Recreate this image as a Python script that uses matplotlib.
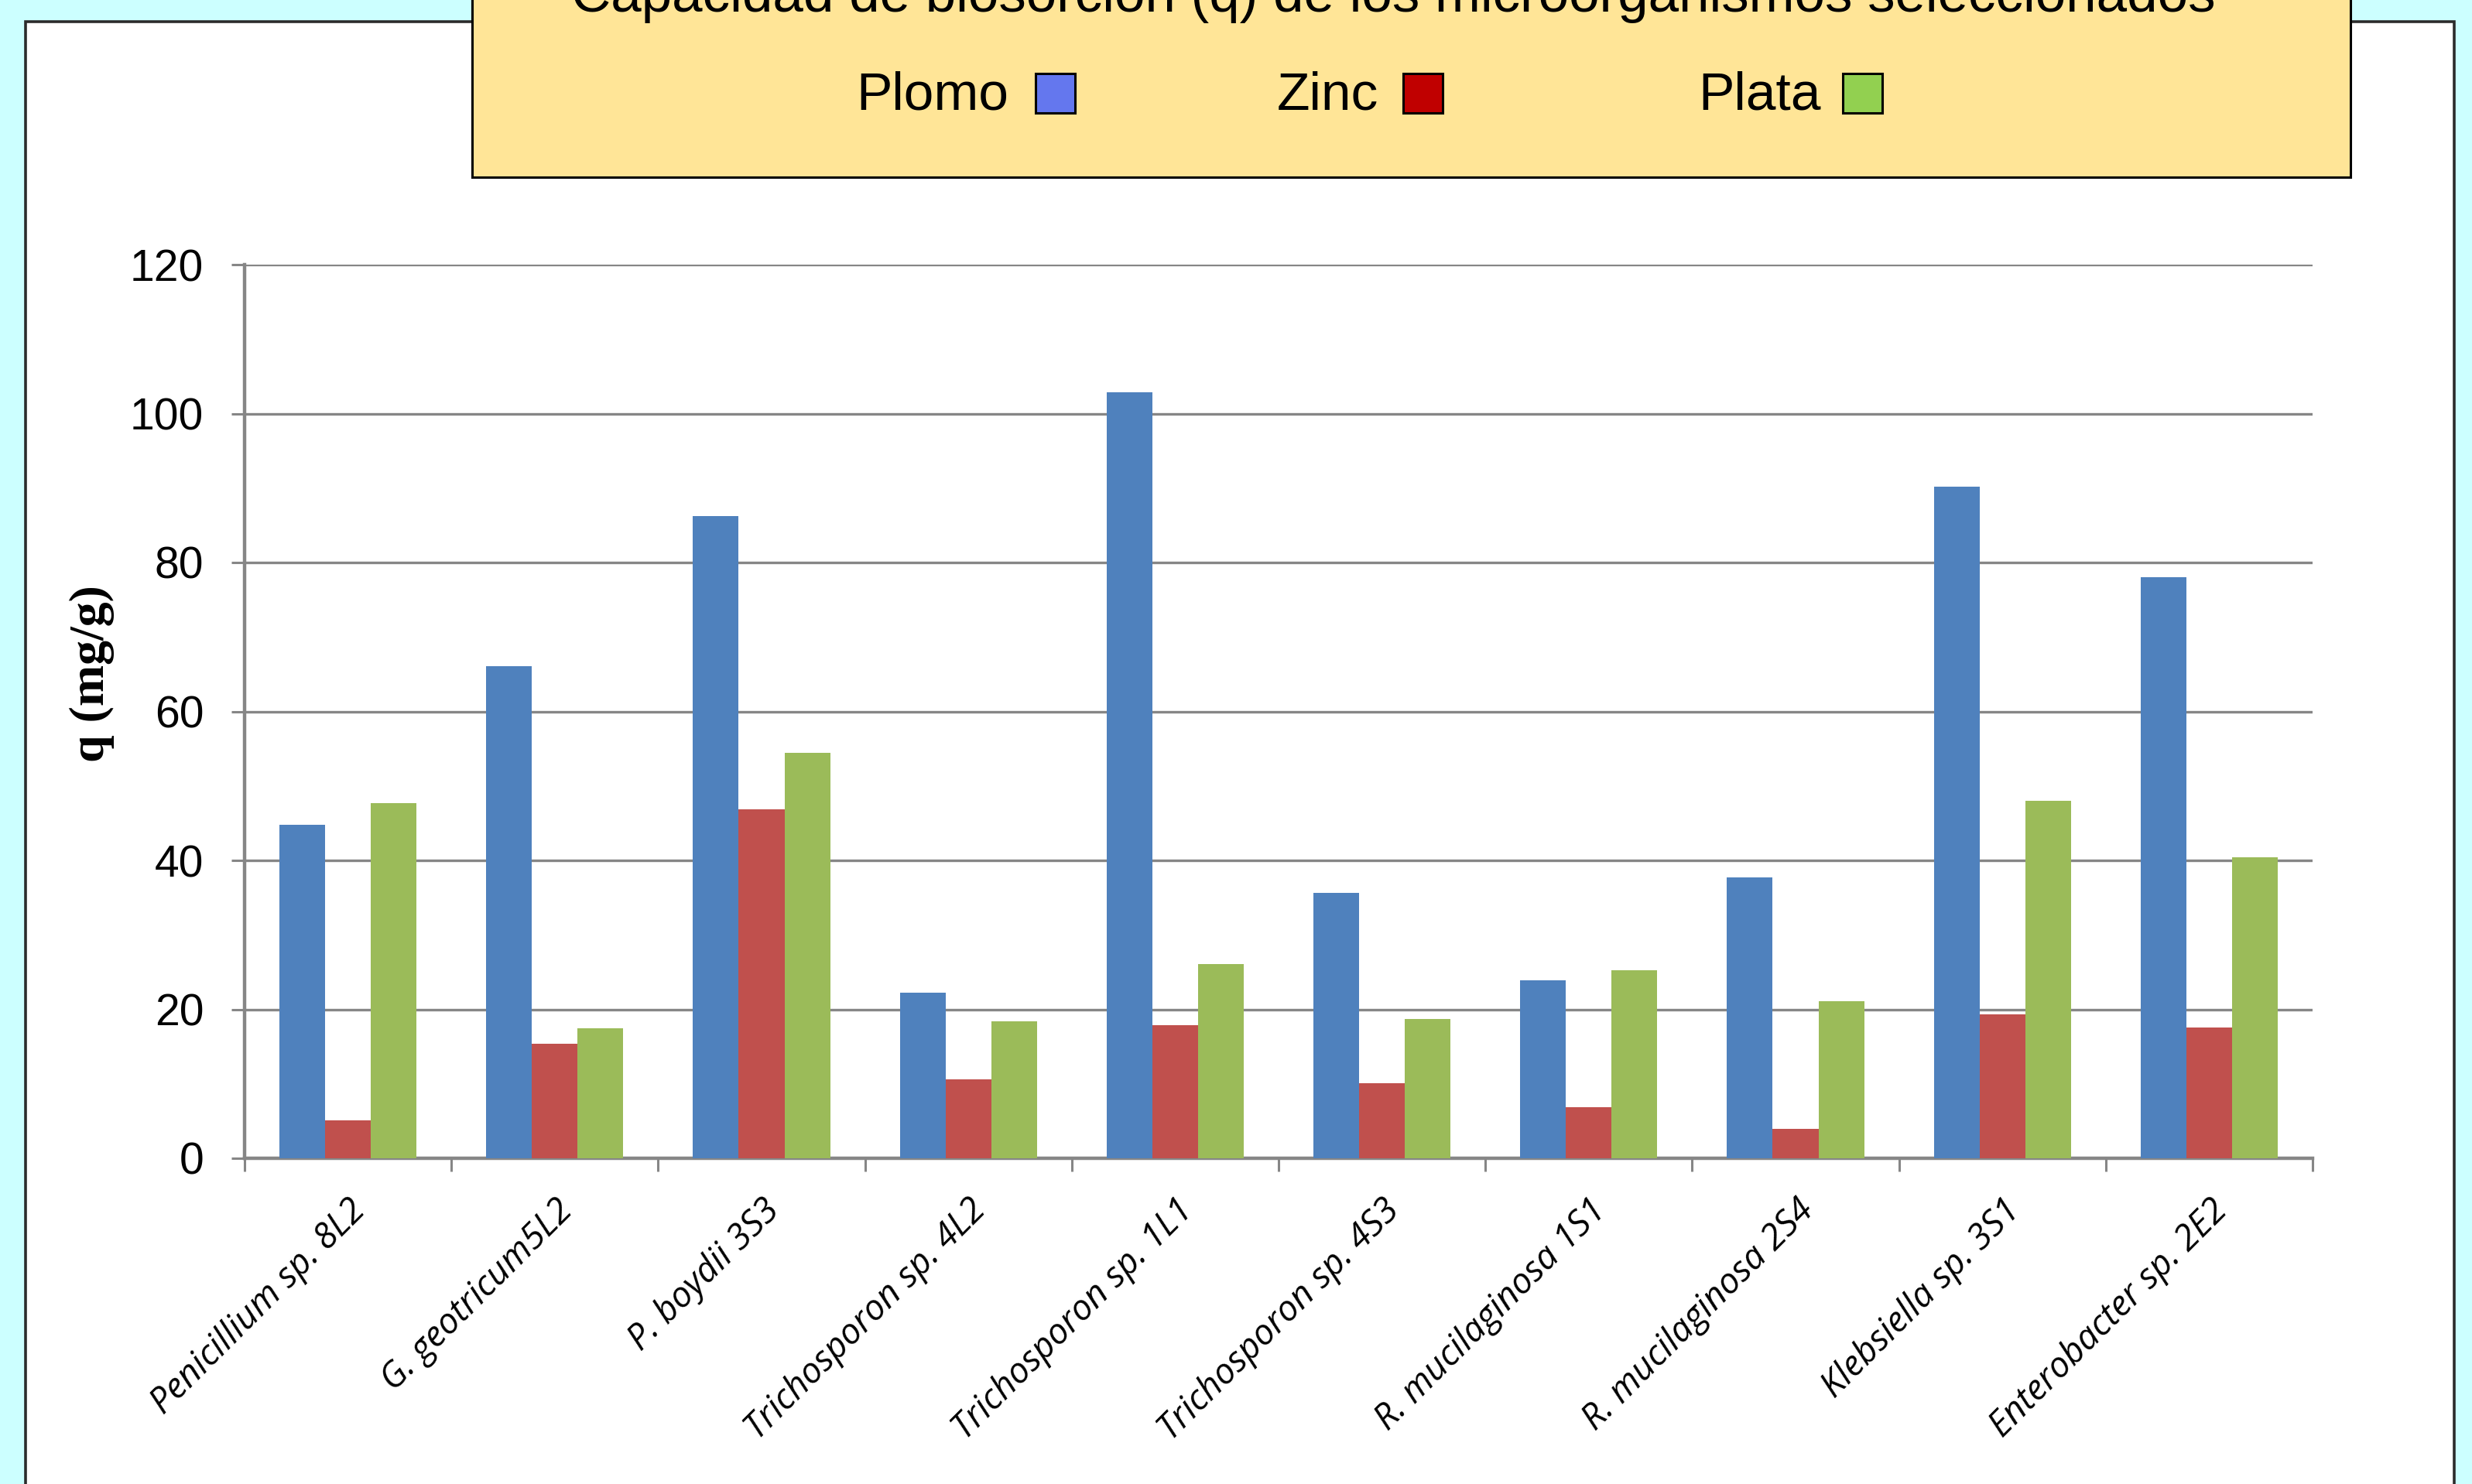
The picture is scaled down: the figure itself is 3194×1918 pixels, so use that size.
import matplotlib.pyplot as plt
from matplotlib.patches import Rectangle
from matplotlib.ticker import FixedLocator
import numpy as np

# datos
cepas = ["Penicillium sp. 8L2", "G. geotricum5L2", "P. boydii 3S3",
         "Trichosporon sp. 4L2", "Trichosporon sp. 1L1", "Trichosporon sp. 4S3",
         "R. mucilaginosa 1S1", "R. mucilaginosa 2S4", "Klebsiella sp. 3S1",
         "Enterobacter sp. 2E2"]
plomo = [44.8, 66.1, 86.2, 22.2, 102.9, 35.6, 23.9, 37.7, 90.2, 78.0]
zinc = [5.1, 15.4, 46.9, 10.6, 17.9, 10.1, 6.9, 4.0, 19.3, 17.6]
plata = [47.7, 17.5, 54.4, 18.4, 26.1, 18.7, 25.2, 21.1, 48.0, 40.4]
metales = ["Plomo", "Zinc", "Plata"]
yticks = [0, 20, 40, 60, 80, 100, 120]
titulo = "Capacidad de biosorción (q) de los microorganismos seleccionados"

colores_barra = ["#4F81BD", "#C0504D", "#9BBB59"]
colores_leyenda = ["#6477EE", "#C00000", "#92D050"]

W, H = 3194, 1918
fig = plt.figure(figsize=(W / 200, H / 200), dpi=200)
fig.patch.set_facecolor("#CCFFFF")

# panel blanco con borde
fig.add_artist(Rectangle((32.6 / W, -0.05), (3170.7 - 32.6) / W, 1.05 - 27.7 / H,
                         transform=fig.transFigure, facecolor="white",
                         edgecolor="#2b2b2b", lw=1.3, zorder=-5))

# caja amarilla con titulo y leyenda
fig.add_artist(Rectangle((610 / W, 1 - 229 / H), (3037 - 610) / W, 229 / H + 0.05,
                         transform=fig.transFigure, facecolor="#FFE597",
                         edgecolor="black", lw=1.1, zorder=2))
fig.text(1800 / W, 1 - 15 / H, titulo, ha="center", va="baseline",
         fontsize=25.5, family="Liberation Sans", zorder=3)

texto_x = [1106, 1650, 2194]
cuadro_x = [1338, 1813, 2381]
for nombre, c, tx, cx in zip(metales, colores_leyenda, texto_x, cuadro_x):
    fig.text(tx / W, 1 - 142 / H, nombre, ha="left", va="baseline",
             fontsize=25, family="Liberation Sans", zorder=3)
    fig.add_artist(Rectangle((cx / W, 1 - 146 / H), 51 / W, 51 / H,
                             transform=fig.transFigure, facecolor=c,
                             edgecolor="black", lw=1.1, zorder=3))

ax = fig.add_axes([316 / W, 1 - 1497 / H, (2988 - 316) / W, (1497 - 342) / H])
ax.set_facecolor("none")

x = np.arange(len(cepas))
ancho = 0.221
for i, (serie, c) in enumerate(zip([plomo, zinc, plata], colores_barra)):
    ax.bar(x + (i - 1) * ancho, serie, ancho, color=c, zorder=3)

ax.set_xlim(-0.5, len(cepas) - 0.5)
ax.set_ylim(0, 120)
ax.set_yticks(yticks)
ax.set_yticklabels([str(v) for v in yticks], fontsize=20.5, family="Liberation Sans")
ax.yaxis.grid(True, color="#868686", lw=1.2, zorder=0)

ax.set_xticks(x)
ax.set_xticklabels(cepas, rotation=45, ha="right", rotation_mode="anchor",
                   fontsize=16.4, family="Open Sans", style="italic")
ax.xaxis.set_minor_locator(FixedLocator(np.arange(-0.5, len(cepas), 1.0)))
ax.tick_params(axis="x", which="major", length=0, pad=16)
ax.tick_params(axis="x", which="minor", length=6, width=1.1, color="#868686")
ax.tick_params(axis="y", length=6, width=1.1, color="#868686", pad=13)

for s in ["top", "right"]:
    ax.spines[s].set_visible(False)
for s in ["left", "bottom"]:
    ax.spines[s].set_color("#868686")
    ax.spines[s].set_linewidth(1.6)

fig.text(119 / W, 1 - 871 / H, "q (mg/g)", rotation=90, ha="center", va="center",
         fontsize=23, family="Liberation Serif", fontweight="bold")

fig.savefig("out.png", dpi=200, facecolor=fig.get_facecolor())
